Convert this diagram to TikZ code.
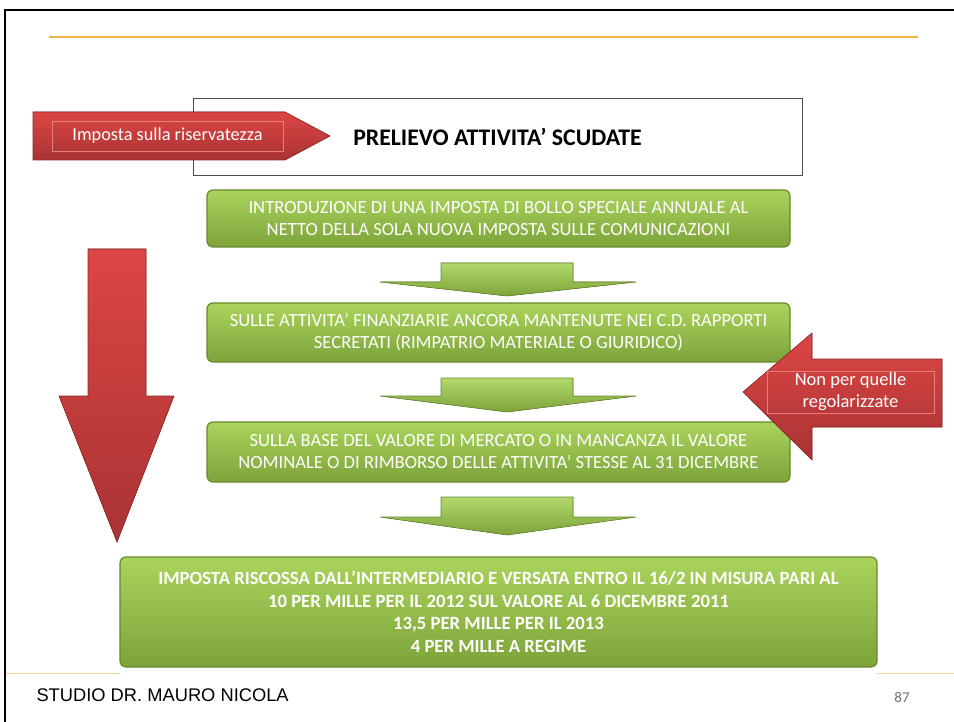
\documentclass[tikz,border=0pt]{standalone}
\usepackage{fontspec}
\setmainfont{Carlito}
\newfontfamily\footfont{Liberation Sans}
\usepackage{tikz}

\definecolor{leafTop}{HTML}{AAD45C}
\definecolor{leafBot}{HTML}{7DA33A}
\definecolor{leafEdge}{HTML}{67892B}
\definecolor{brickTop}{HTML}{DC4644}
\definecolor{brickBot}{HTML}{A93333}
\definecolor{brickEdge}{HTML}{8C2828}
\definecolor{rule}{HTML}{F2B24C}

\begin{document}
\begin{tikzpicture}[x=1pt,y=-1pt,
  greenbox/.style={draw=leafEdge,line width=1.2pt,rounded corners=6pt,
    top color=leafTop,bottom color=leafBot,text=white,align=center,
    minimum width=583pt,font=\fontsize{18.6}{22}\selectfont},
  greenarrow/.style={draw=leafEdge,line width=0.6pt,top color=leafTop!90!white,
    bottom color=leafBot},
  redarrow/.style={draw=brickEdge,line width=0.6pt,top color=brickTop,
    bottom color=brickBot},
  redlabel/.style={draw=brickTop!70!white,line width=0.5pt,text=white,
    align=center,inner sep=0pt}]
\useasboundingbox (0,0) rectangle (954,722);

% frame and rules
\draw[line width=2pt] (5,722) -- (5,10) -- (954,10);
\draw[rule,line width=2pt] (49,37) -- (918,37);
\draw[rule!60!white,line width=0.8pt] (6,673) -- (120,673);
\draw[rule!60!white,line width=0.8pt] (877,673) -- (954,673);

% title
\node[draw=black!70,line width=0.8pt,fill=white,minimum width=609pt,minimum height=77pt,
  font=\fontsize{23.8}{26}\selectfont\bfseries] (title) at (497.5,136.5) {PRELIEVO ATTIVITA’ SCUDATE};

\fill[redarrow] (33,112) -- (285,112) -- (330,136) -- (285,160) -- (33,160) -- cycle;
\node[redlabel,minimum width=231pt,minimum height=30pt,font=\fontsize{18.3}{20}\selectfont]
  (riserv) at (167.5,136) {Imposta sulla riservatezza};

% big arrow on the left
\fill[redarrow] (88,249) -- (146,249) -- (146,396) -- (174,396) -- (117,542)
  -- (59,396) -- (88,396) -- cycle;

% steps
\node[greenbox,minimum height=57pt] (s1) at (498.5,218.5)
  {INTRODUZIONE DI UNA IMPOSTA DI BOLLO SPECIALE ANNUALE AL\\NETTO DELLA SOLA NUOVA IMPOSTA SULLE COMUNICAZIONI};
\node[greenbox,minimum height=59pt] (s2) at (498.5,332.5)
  {SULLE ATTIVITA’ FINANZIARIE ANCORA MANTENUTE NEI C.D. RAPPORTI\\SECRETATI (RIMPATRIO MATERIALE O GIURIDICO)};
\node[greenbox,minimum height=60pt] (s3) at (498.5,452)
  {SULLA BASE DEL VALORE DI MERCATO O IN MANCANZA IL VALORE\\NOMINALE O DI RIMBORSO DELLE ATTIVITA’ STESSE AL 31 DICEMBRE};
\node[greenbox,minimum width=757pt,minimum height=110pt,
  font=\fontsize{18.7}{22.5}\selectfont\bfseries] (s4) at (498.5,612)
  {IMPOSTA RISCOSSA DALL’INTERMEDIARIO E VERSATA ENTRO IL 16/2 IN MISURA PARI AL\\
   10 PER MILLE PER IL 2012 SUL VALORE AL 6 DICEMBRE 2011\\
   13,5 PER MILLE PER IL 2013\\
   4 PER MILLE A REGIME};

% arrows between the steps
\foreach \top/\mid/\tip in {263/282/296, 378/396/412, 497/517/535}
  \fill[greenarrow] (441,\top) -- (573,\top) -- (573,\mid) -- (636,\mid) -- (507,\tip)
    -- (380,\mid) -- (441,\mid) -- cycle;

% exception
\fill[redarrow] (942,359) -- (812,359) -- (812,333) -- (743,392) -- (812,460)
  -- (812,427) -- (942,427) -- cycle;
\node[redlabel,minimum width=167pt,minimum height=42pt,font=\fontsize{18.5}{22}\selectfont]
  (regol) at (850.5,392) {Non per quelle\\regolarizzate};

% footer
\node[font=\footfont\fontsize{18.3}{20}\selectfont,anchor=west] (studio) at (33,695) {STUDIO DR. MAURO NICOLA};
\node[font=\fontsize{15}{17}\selectfont,text=black!55] (page) at (902,697) {87};
\end{tikzpicture}
\end{document}
